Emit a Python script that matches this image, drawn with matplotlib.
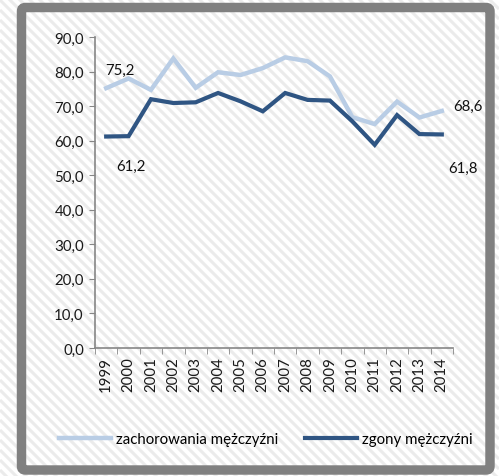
import numpy as np
import matplotlib.pyplot as plt
from matplotlib.patches import FancyBboxPatch

years = [str(y) for y in range(1999, 2015)]
zachorowania = [75.2, 78.0, 74.7, 83.8, 75.3, 79.8, 79.0, 81.0, 84.1, 83.0, 78.6, 66.8, 64.8, 71.3, 66.7, 68.6]
zgony = [61.2, 61.3, 72.0, 70.9, 71.1, 73.8, 71.4, 68.5, 73.8, 71.8, 71.6, 65.6, 58.8, 67.4, 61.9, 61.8]
yticks = [0, 10, 20, 30, 40, 50, 60, 70, 80, 90]

plt.rcParams['font.family'] = ['Lato', 'DejaVu Sans']
FS = 10.8

W, H = 499, 477
fig = plt.figure(figsize=(W / 100, H / 100), dpi=100)

# hatched background
bg = fig.add_axes([0, 0, 1, 1], zorder=-10)
bg.set_xlim(0, W)
bg.set_ylim(H, 0)
bg.axis('off')
for c in np.arange(-W, H, 10):
    bg.plot([0, W], [c, c + W], color='#ebebeb', lw=2.2, solid_capstyle='butt')

# gray frame
frame = FancyBboxPatch((21.5 / W, 1 - 471 / H), (490 - 21.5) / W, (471 - 8.5) / H,
                       boxstyle='round,pad=0,rounding_size=0.008',
                       transform=fig.transFigure, facecolor='none',
                       edgecolor='#808080', lw=6.8, zorder=5)
fig.patches.append(frame)

ax = fig.add_axes([95 / W, 1 - 349 / H, (453 - 95) / W, (349 - 38) / H])
ax.set_facecolor('none')
x = np.arange(len(years))
light = '#b9cde5'
dark = '#2f5583'
ax.plot(x, zachorowania, color=light, lw=3.2, label='zachorowania mężczyźni', solid_joinstyle='miter')
ax.plot(x, zgony, color=dark, lw=3, label='zgony mężczyźni', solid_joinstyle='miter')

ax.set_xlim(-0.5, len(years) - 0.5)
ax.set_ylim(0, 90)
ax.set_yticks(yticks)
ax.set_yticklabels([f'{v:.1f}'.replace('.', ',') for v in yticks], fontsize=FS, color='#1a1a1a')
ax.set_xticks(x)
ax.set_xticklabels(years, rotation=90, fontsize=FS, color='#1a1a1a')
ax.set_xticks(np.arange(-0.5, len(years)), minor=True)
ax.tick_params(axis='x', which='major', length=0, pad=6)
ax.tick_params(axis='x', which='minor', length=4, color='#868686')
ax.tick_params(axis='y', length=4, color='#868686', pad=4)
for s in ['top', 'right']:
    ax.spines[s].set_visible(False)
for s in ['left', 'bottom']:
    ax.spines[s].set_color('#868686')
    ax.spines[s].set_linewidth(1.2)

def lab(i, series, dx, dy):
    ax.annotate(f'{series[i]:.1f}'.replace('.', ','), (x[i], series[i]),
                xytext=(dx, dy), textcoords='offset points',
                ha='center', va='center', fontsize=FS, color='#111111')

lab(0, zachorowania, 10, 13)
lab(0, zgony, 18, -21)
lab(15, zachorowania, 19, 4)
lab(15, zgony, 15, -24)

fig.legend(loc='center', bbox_to_anchor=(266 / W, 1 - 440 / H), ncol=2, frameon=False,
           fontsize=FS, handlelength=3.47, handletextpad=0.33, columnspacing=1.8)

fig.savefig('out.png', dpi=100)
